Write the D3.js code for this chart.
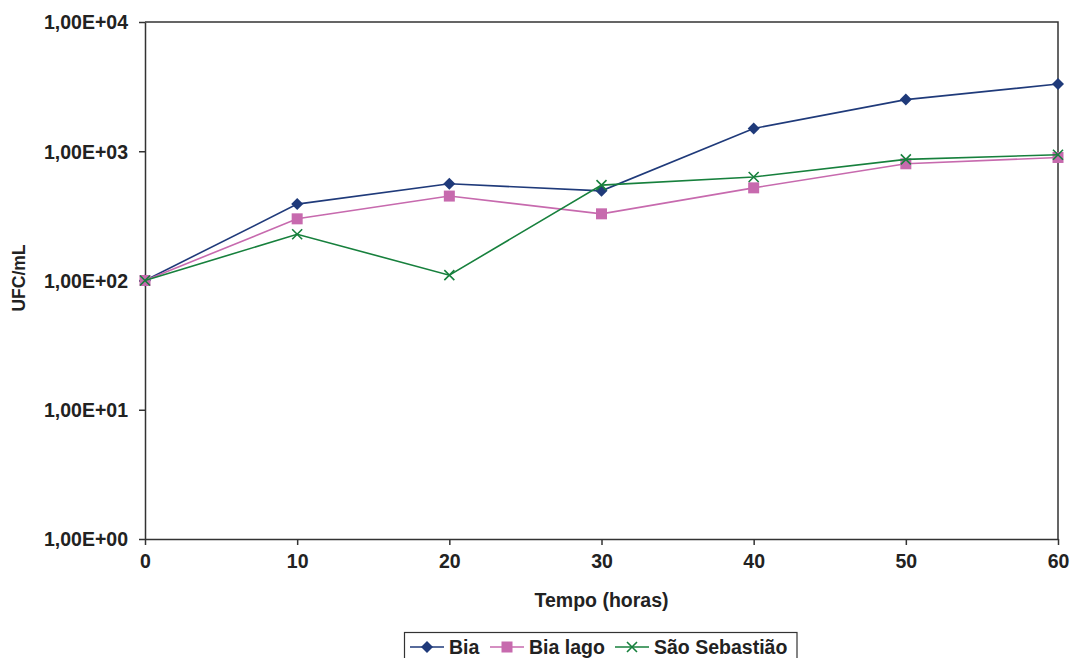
<!DOCTYPE html>
<html>
<head>
<meta charset="utf-8">
<script src="https://cdn.jsdelivr.net/npm/d3@7"></script>
<style>
  body { margin: 0; background: #fff; }
  svg { display: block; font-family: "Liberation Sans", Arial, sans-serif; font-weight: bold; }
</style>
</head>
<body>
<svg id="chart" width="1071" height="658"></svg>
<script>
// data
var horas = [0, 10, 20, 30, 40, 50, 60];
var bia = [100, 390, 560, 494, 1500, 2510, 3310];
var biaLago = [100, 300, 450, 328, 521, 800, 895];
var saoSebastiao = [100, 228, 110, 547, 632, 865, 940];
var yTicks = [1, 10, 100, 1000, 10000];

var series = [
  { name: "Bia", values: bia, color: "#1f3a7a", marker: "diamond" },
  { name: "Bia lago", values: biaLago, color: "#c76aae", marker: "square" },
  { name: "São Sebastião", values: saoSebastiao, color: "#17803d", marker: "x" }
];

var margin = { top: 22, right: 13, bottom: 119, left: 145 };
var svg = d3.select("#chart");
var width = 1071 - margin.left - margin.right;
var height = 658 - margin.top - margin.bottom;
var g = svg.append("g").attr("transform", "translate(" + margin.left + "," + margin.top + ")");

var x = d3.scaleLinear().domain([0, 60]).range([0, width]);
var y = d3.scaleLog().domain([1, 10000]).range([height, 0]);

var axisColor = "#333";
var textColor = "#222";

// frame: top and right edges
g.append("path")
  .attr("d", "M0,0H" + width + "V" + height)
  .attr("fill", "none").attr("stroke", axisColor).attr("stroke-width", 1.5);

var xAxis = g.append("g")
  .attr("transform", "translate(0," + height + ")")
  .call(d3.axisBottom(x).tickValues(horas).tickSize(6).tickPadding(9).tickSizeOuter(0));

var yAxis = g.append("g")
  .call(d3.axisLeft(y).tickValues(yTicks).tickSize(6).tickPadding(11).tickSizeOuter(0)
    .tickFormat(function(d) { return "1,00E+0" + Math.round(Math.log10(d)); }));

[xAxis, yAxis].forEach(function(a) {
  a.select(".domain").attr("stroke", axisColor).attr("stroke-width", 1.5);
  a.selectAll(".tick line").attr("stroke", axisColor).attr("stroke-width", 1.5);
  a.selectAll(".tick text")
    .attr("fill", textColor)
    .style("font-size", "19.5px")
    .style("font-weight", "bold")
    .style("font-family", "'Liberation Sans', Arial, sans-serif");
});
yAxis.selectAll(".tick text").attr("dy", "0.35em");
xAxis.selectAll(".tick text").attr("dy", "0.71em");

// axis titles
svg.append("text")
  .attr("x", margin.left + width / 2)
  .attr("y", 607)
  .attr("text-anchor", "middle")
  .attr("fill", textColor)
  .style("font-size", "19.5px")
  .text("Tempo (horas)");

svg.append("text")
  .attr("transform", "translate(25,278) rotate(-90)")
  .attr("text-anchor", "middle")
  .attr("fill", textColor)
  .style("font-size", "17.5px")
  .text("UFC/mL");

function drawMarker(sel, type, color) {
  if (type === "diamond") {
    sel.append("path").attr("d", "M0,-6L6,0L0,6L-6,0Z").attr("fill", color);
  } else if (type === "square") {
    sel.append("rect").attr("x", -5.5).attr("y", -5.5).attr("width", 11).attr("height", 11).attr("fill", color);
  } else {
    sel.append("path").attr("d", "M-5,-5L5,5M-5,5L5,-5").attr("stroke", color).attr("stroke-width", 1.6).attr("fill", "none");
  }
}

var line = d3.line()
  .x(function(d, i) { return x(horas[i]); })
  .y(function(d) { return y(d); });

series.forEach(function(s) {
  g.append("path")
    .datum(s.values)
    .attr("fill", "none")
    .attr("stroke", s.color)
    .attr("stroke-width", 1.6)
    .attr("d", line);

  g.selectAll(null)
    .data(s.values)
    .enter().append("g")
    .attr("transform", function(d, i) { return "translate(" + x(horas[i]) + "," + y(d) + ")"; })
    .each(function() { drawMarker(d3.select(this), s.marker, s.color); });
});

// legend
var legend = svg.append("g");
legend.append("rect")
  .attr("x", 404.5).attr("y", 632.5).attr("width", 392.5).attr("height", 40)
  .attr("fill", "#fff").attr("stroke", axisColor).attr("stroke-width", 1.2);

var legendX = [410, 490, 615];
series.forEach(function(s, i) {
  var lg = legend.append("g").attr("transform", "translate(" + legendX[i] + ",647)");
  lg.append("line").attr("x1", 0).attr("x2", 34).attr("stroke", s.color).attr("stroke-width", 1.6);
  var m = lg.append("g").attr("transform", "translate(17,0)");
  drawMarker(m, s.marker, s.color);
  lg.append("text")
    .attr("x", 39).attr("y", 0).attr("dy", "0.34em")
    .attr("fill", textColor)
    .style("font-size", "19.5px")
    .text(s.name);
});
</script>
</body>
</html>
